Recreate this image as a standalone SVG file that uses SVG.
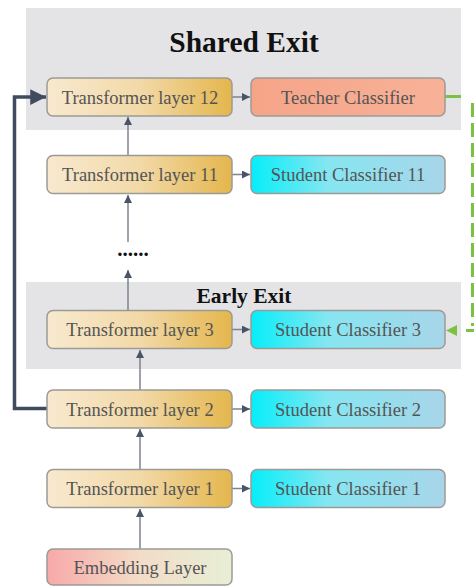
<svg xmlns="http://www.w3.org/2000/svg" width="474" height="586" viewBox="0 0 474 586">
  <defs>
    <linearGradient id="gTrans" x1="0" y1="0" x2="1" y2="0">
      <stop offset="0" stop-color="#f8e9cf"/>
      <stop offset="0.5" stop-color="#f2d9a8"/>
      <stop offset="1" stop-color="#e4b64c"/>
    </linearGradient>
    <linearGradient id="gStudent" x1="0" y1="0" x2="1" y2="0">
      <stop offset="0" stop-color="#05eef9"/>
      <stop offset="0.4" stop-color="#86e6f1"/>
      <stop offset="1" stop-color="#a8d5e9"/>
    </linearGradient>
    <linearGradient id="gTeacher" x1="0" y1="0" x2="1" y2="0">
      <stop offset="0" stop-color="#f6a488"/>
      <stop offset="1" stop-color="#f7b298"/>
    </linearGradient>
    <linearGradient id="gEmbed" x1="0" y1="0" x2="1" y2="0">
      <stop offset="0" stop-color="#f8a9a9"/>
      <stop offset="0.5" stop-color="#f3dcc8"/>
      <stop offset="1" stop-color="#e7efd5"/>
    </linearGradient>
    <marker id="head" viewBox="0 0 10 10" refX="10" refY="5" markerWidth="8" markerHeight="8" markerUnits="userSpaceOnUse" orient="auto">
      <path d="M0,0 L10,5 L0,10 z" fill="#4a5467"/>
    </marker>
    <marker id="headBig" viewBox="0 0 10 10" refX="10" refY="5" markerWidth="5" markerHeight="4.5" orient="auto">
      <path d="M0,0 L10,5 L0,10 z" fill="#3f4b5e"/>
    </marker>
  </defs>
  <style>
    .panel { fill: #e4e4e6; }
    .box { stroke: #9c9a96; stroke-width: 1.5; }
    .trans { fill: url(#gTrans); }
    .student { fill: url(#gStudent); }
    .teacher { fill: url(#gTeacher); }
    .embed { fill: url(#gEmbed); }
    .label { font-family: "Liberation Serif", "Times New Roman", serif; font-size: 18.5px; fill: #545454; text-anchor: middle; }
    .title { font-family: "Liberation Serif", "Times New Roman", serif; font-weight: bold; fill: #111; text-anchor: middle; }
    .thin { stroke: #7d8391; stroke-width: 1.5; fill: none; marker-end: url(#head); }
    .green { stroke: #7cc242; stroke-width: 3; fill: none; }
  </style>

  <!-- exit panels -->
  <g id="shared-exit">
    <rect class="panel" x="26" y="8" width="435" height="122"/>
    <text class="title" x="244" y="52" font-size="29.5">Shared Exit</text>
  </g>
  <g id="early-exit">
    <rect class="panel" x="26" y="282" width="435" height="87"/>
    <text class="title" x="244" y="303" font-size="21.5">Early Exit</text>
  </g>

  <!-- connectors -->
  <g id="connectors">
    <line class="thin" x1="232" y1="97" x2="250" y2="97"/>
    <line class="thin" x1="232" y1="174.5" x2="250" y2="174.5"/>
    <line class="thin" x1="232" y1="329.5" x2="250" y2="329.5"/>
    <line class="thin" x1="232" y1="409" x2="250" y2="409"/>
    <line class="thin" x1="232" y1="488.5" x2="250" y2="488.5"/>
    <line class="thin" x1="128" y1="155" x2="128" y2="117"/>
    <line class="thin" x1="128" y1="242" x2="128" y2="195"/>
    <line class="thin" x1="128" y1="310" x2="128" y2="270"/>
    <line class="thin" x1="140" y1="390" x2="140" y2="350"/>
    <line class="thin" x1="140" y1="469" x2="140" y2="429"/>
    <line class="thin" x1="140" y1="549" x2="140" y2="509"/>
    <!-- skip link from layer 2 to layer 12 -->
    <path d="M47 408.5 H14.5 V97 H46" stroke="#3f4b5e" stroke-width="3.5" fill="none" marker-end="url(#headBig)"/>
    <!-- distillation link from teacher to student 3 -->
    <line class="green" x1="445" y1="96.5" x2="461" y2="96.5"/>
    <path class="green" d="M472.5 103 V326" stroke-dasharray="14 6"/>
    <line class="green" x1="474" y1="330.5" x2="466" y2="330.5"/>
    <path d="M446 330.5 L457 325 L457 336 z" fill="#7cc242"/>
  </g>

  <!-- nodes -->
  <g id="layer12">
    <rect class="box trans" x="47" y="78" width="185" height="38" rx="6"/>
    <text class="label" x="140" y="103.5">Transformer layer 12</text>
  </g>
  <g id="teacher">
    <rect class="box teacher" x="251" y="78" width="194" height="38" rx="6"/>
    <text class="label" x="348" y="103.5">Teacher Classifier</text>
  </g>
  <g id="layer11">
    <rect class="box trans" x="47" y="155.5" width="185" height="38" rx="6"/>
    <text class="label" x="140" y="181">Transformer layer 11</text>
  </g>
  <g id="student11">
    <rect class="box student" x="251" y="155.5" width="194" height="38" rx="6"/>
    <text class="label" x="348" y="181">Student Classifier 11</text>
  </g>
  <g id="ellipsis">
    <text x="133" y="256" font-family="Liberation Serif, serif" font-weight="bold" font-size="21" fill="#111" text-anchor="middle">......</text>
  </g>
  <g id="layer3">
    <rect class="box trans" x="47" y="310.5" width="185" height="38" rx="6"/>
    <text class="label" x="140" y="336">Transformer layer 3</text>
  </g>
  <g id="student3">
    <rect class="box student" x="251" y="310.5" width="194" height="38" rx="6"/>
    <text class="label" x="348" y="336">Student Classifier 3</text>
  </g>
  <g id="layer2">
    <rect class="box trans" x="47" y="390" width="185" height="38" rx="6"/>
    <text class="label" x="140" y="415.5">Transformer layer 2</text>
  </g>
  <g id="student2">
    <rect class="box student" x="251" y="390" width="194" height="38" rx="6"/>
    <text class="label" x="348" y="415.5">Student Classifier 2</text>
  </g>
  <g id="layer1">
    <rect class="box trans" x="47" y="469.5" width="185" height="38" rx="6"/>
    <text class="label" x="140" y="495">Transformer layer 1</text>
  </g>
  <g id="student1">
    <rect class="box student" x="251" y="469.5" width="194" height="38" rx="6"/>
    <text class="label" x="348" y="495">Student Classifier 1</text>
  </g>
  <g id="embedding">
    <rect class="box embed" x="47" y="549" width="185" height="36" rx="6"/>
    <text class="label" x="140" y="574">Embedding Layer</text>
  </g>
</svg>
